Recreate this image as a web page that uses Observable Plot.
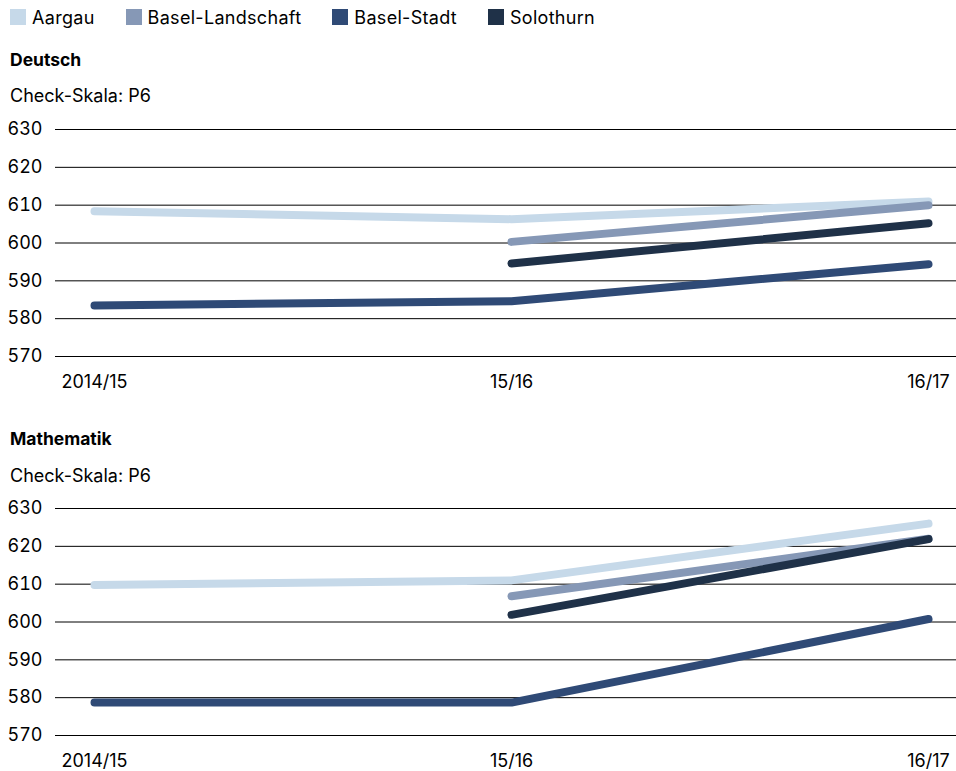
<!DOCTYPE html>
<html>
<head>
<meta charset="utf-8">
<script src="https://cdn.jsdelivr.net/npm/d3@7"></script>
<script src="https://cdn.jsdelivr.net/npm/@observablehq/plot@0.6"></script>
<style>
  html, body { margin: 0; padding: 0; background: #fff; }
  body { width: 956px; height: 771px; position: relative; font-family: Inter, "Noto Sans", sans-serif; color: #000; }
  .abs { position: absolute; left: 0; }
  .legend { top: 0; height: 34px; display: flex; align-items: center; font-size: 18px; letter-spacing: 0.3px; }
  .legend .item { display: flex; align-items: center; }
  .legend .sw { width: 16px; height: 16px; margin-right: 6px; }
  .title { left: 10px; font-weight: 700; font-size: 17.5px; height: 34px; line-height: 34px; }
  .sub { left: 10px; font-size: 18px; height: 34px; line-height: 34px; }
</style>
</head>
<body>
<div id="legend" class="abs legend"></div>
<div id="t1" class="abs title" style="top:43px"></div>
<div id="s1" class="abs sub" style="top:79px"></div>
<div id="p1" class="abs" style="top:119px"></div>
<div id="t2" class="abs title" style="top:422px"></div>
<div id="s2" class="abs sub" style="top:459px"></div>
<div id="p2" class="abs" style="top:498px"></div>
<script>
// ---- data ----
const years = ["2014/15", "15/16", "16/17"];
const series = ["Aargau", "Basel-Landschaft", "Basel-Stadt", "Solothurn"];
const colors = ["#c6d9e9", "#8698b6", "#2f4a76", "#1f3148"];
const yTicks = [570, 580, 590, 600, 610, 620, 630];
const subjects = ["Deutsch", "Mathematik"];
const scaleLabel = "Check-Skala: P6";

// Deutsch (values per year; null = no data)
const deutschAargau = [608.4, 606.3, 611.0];
const deutschBaselLandschaft = [null, 600.3, 610.0];
const deutschBaselStadt = [583.5, 584.6, 594.4];
const deutschSolothurn = [null, 594.6, 605.2];

// Mathematik
const mathAargau = [609.8, 611.0, 626.0];
const mathBaselLandschaft = [null, 606.8, 622.0];
const mathBaselStadt = [578.7, 578.7, 600.8];
const mathSolothurn = [null, 601.9, 621.9];

// ---- build tables ----
function table(arrs) {
  const rows = [];
  arrs.forEach((arr, i) => arr.forEach((v, j) => {
    if (v != null) rows.push({series: series[i], year: years[j], value: v});
  }));
  return rows;
}
const deutsch = table([deutschAargau, deutschBaselLandschaft, deutschBaselStadt, deutschSolothurn]);
const math = table([mathAargau, mathBaselLandschaft, mathBaselStadt, mathSolothurn]);

// ---- legend ----
const lg = d3.select("#legend").style("padding-left", "10px");
series.forEach((s, i) => {
  const it = lg.append("div").attr("class", "item").style("margin-right", i < series.length - 1 ? "31px" : "0");
  it.append("div").attr("class", "sw").style("background", colors[i]);
  it.append("span").text(s);
});

d3.select("#t1").text(subjects[0]);
d3.select("#s1").text(scaleLabel);
d3.select("#t2").text(subjects[1]);
d3.select("#s2").text(scaleLabel);

function chart(data) {
  return Plot.plot({
    width: 956,
    height: 277,
    marginTop: 10,
    marginBottom: 40,
    marginLeft: 55,
    marginRight: 0,
    style: {fontFamily: "Inter, 'Noto Sans', sans-serif", fontSize: "18px", color: "#000", background: "#fff", overflow: "visible"},
    x: {type: "point", domain: years, padding: 0, insetLeft: 38, insetRight: 28, label: null},
    y: {domain: [570, 630], label: null},
    color: {domain: series, range: colors},
    marks: [
      Plot.ruleY(yTicks, {stroke: "#000", strokeWidth: 1}),
      Plot.axisY(yTicks, {tickSize: 0, tickPadding: 13, fill: "#000", label: null}),
      Plot.axisX({tickSize: 0, tickPadding: 19, fill: "#000", label: null}),
      Plot.line(data, {x: "year", y: "value", z: "series", stroke: "series", strokeWidth: 8, strokeLinecap: "round", strokeLinejoin: "round"})
    ]
  });
}
document.getElementById("p1").appendChild(chart(deutsch));
document.getElementById("p2").appendChild(chart(math));
</script>
</body>
</html>
